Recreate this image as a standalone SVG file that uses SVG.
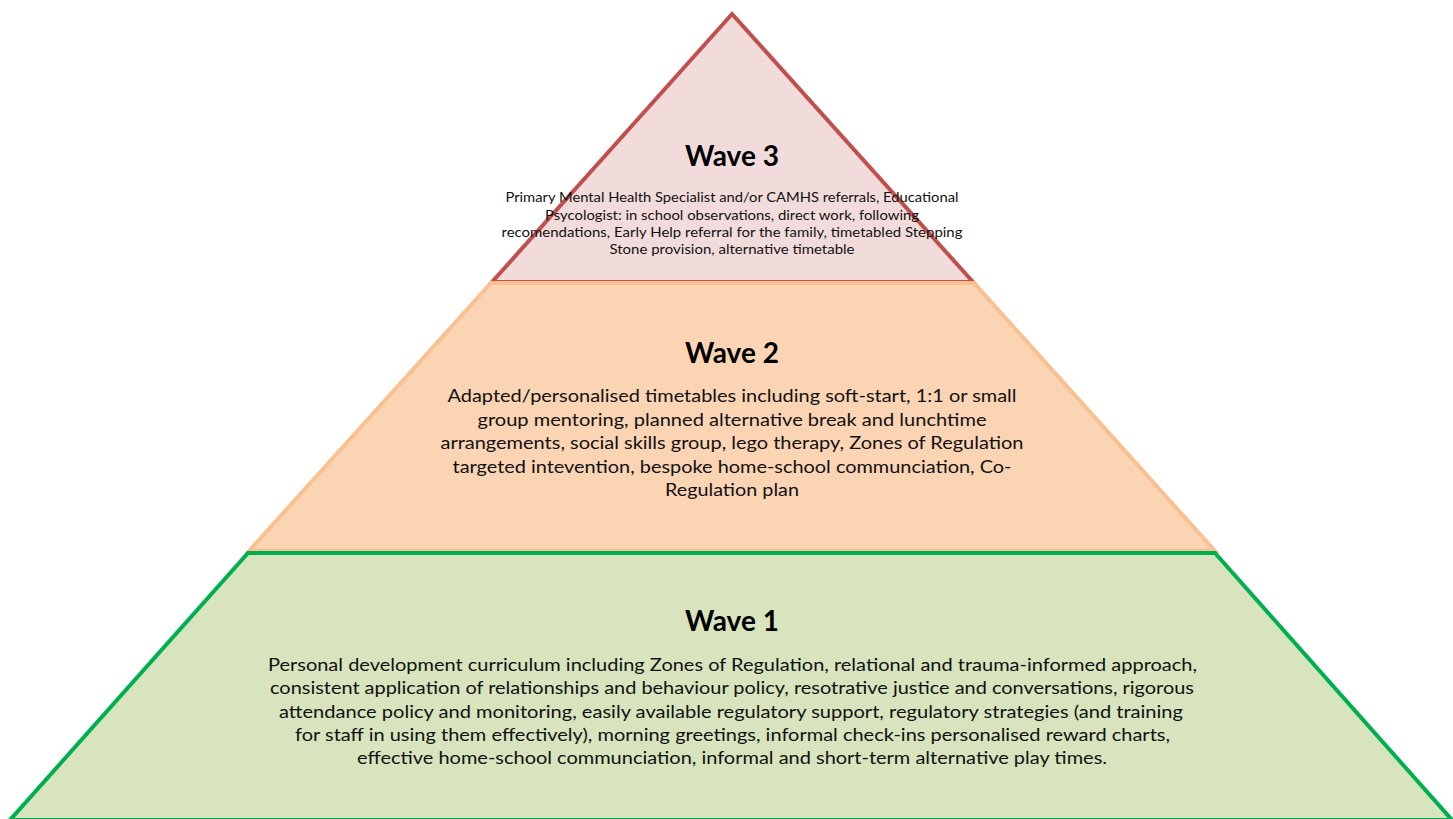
<svg xmlns="http://www.w3.org/2000/svg" width="1453" height="819" viewBox="0 0 1453 819">
<style>
.title{font-family:Lato,"Liberation Sans",sans-serif;font-weight:bold;font-size:28px;fill:#000;text-anchor:middle}
.body{font-family:Lato,"Liberation Sans",sans-serif;font-size:18px;fill:#111;text-anchor:middle}
.small{font-family:Lato,"Liberation Sans",sans-serif;font-size:14px;fill:#111;text-anchor:middle}
.shape{stroke-width:4;stroke-linejoin:miter}
</style>
<rect width="1453" height="819" fill="#ffffff"/>
<g id="wave3">
<polygon class="shape" points="732,14 492,282 973,282" fill="#F2DCDB" stroke="#C0504D"/>
</g>
<g id="wave2">
<polygon class="shape" points="491,283 974,283 1215,551 249,551" fill="#FBD4B4" stroke="#FAC08F"/>
<text class="title" x="732" y="363">Wave 2</text>
<text class="body" x="732" y="402" textLength="569" lengthAdjust="spacingAndGlyphs">Adapted/personalised timetables including soft-start, 1:1 or small</text>
<text class="body" x="732" y="425.5" textLength="509" lengthAdjust="spacingAndGlyphs">group mentoring, planned alternative break and lunchtime</text>
<text class="body" x="732" y="449" textLength="583" lengthAdjust="spacingAndGlyphs">arrangements, social skills group, lego therapy, Zones of Regulation</text>
<text class="body" x="732" y="472.5" textLength="559" lengthAdjust="spacingAndGlyphs">targeted intevention, bespoke home-school communciation, Co-</text>
<text class="body" x="732" y="496" textLength="134" lengthAdjust="spacingAndGlyphs">Regulation plan</text>
</g>
<g id="wave3-text">
<text class="title" x="732" y="166">Wave 3</text>
<text class="small" x="732" y="202" textLength="453" lengthAdjust="spacingAndGlyphs">Primary Mental Health Specialist and/or CAMHS referrals, Educational</text>
<text class="small" x="732" y="219.5" textLength="374" lengthAdjust="spacingAndGlyphs">Psycologist: in school observations, direct work, following</text>
<text class="small" x="732" y="237" textLength="461" lengthAdjust="spacingAndGlyphs">recomendations, Early Help referral for the family, timetabled Stepping</text>
<text class="small" x="732" y="254" textLength="245" lengthAdjust="spacingAndGlyphs">Stone provision, alternative timetable</text>
</g>
<g id="wave1">
<polygon class="shape" points="248,553 1215,553 1452,820 10,820" fill="#D7E4BD" stroke="#00B050"/>
<text class="title" x="732" y="631">Wave 1</text>
<text class="body" x="732.5" y="671" textLength="929" lengthAdjust="spacingAndGlyphs">Personal development curriculum including Zones of Regulation, relational and trauma-informed approach,</text>
<text class="body" x="732" y="694.3" textLength="924" lengthAdjust="spacingAndGlyphs">consistent application of relationships and behaviour policy, resotrative justice and conversations, rigorous</text>
<text class="body" x="731" y="717.7" textLength="904" lengthAdjust="spacingAndGlyphs">attendance policy and monitoring, easily available regulatory support, regulatory strategies (and training</text>
<text class="body" x="732.5" y="741" textLength="875" lengthAdjust="spacingAndGlyphs">for staff in using them effectively), morning greetings, informal check-ins personalised reward charts,</text>
<text class="body" x="732" y="764.3" textLength="750" lengthAdjust="spacingAndGlyphs">effective home-school communciation, informal and short-term alternative play times.</text>
</g>
<g id="connectors"></g>
</svg>
